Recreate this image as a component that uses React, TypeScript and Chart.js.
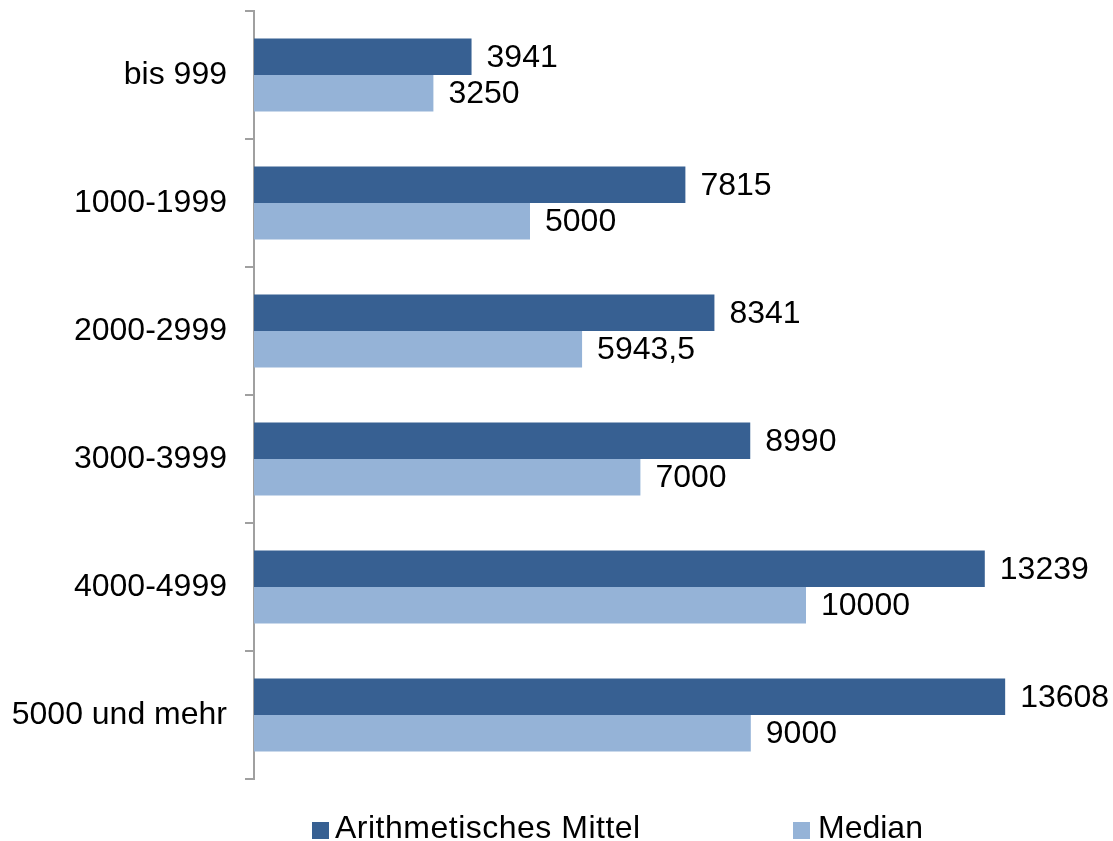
import React, { useEffect, useRef } from "react";
import { Chart, registerables } from "chart.js";

Chart.register(...registerables);

const categories = ["bis 999", "1000-1999", "2000-2999", "3000-3999", "4000-4999", "5000 und mehr"];
const meanValues = [3941, 7815, 8341, 8990, 13239, 13608];
const medianValues = [3250, 5000, 5943.5, 7000, 10000, 9000];
const seriesNames = ["Arithmetisches Mittel", "Median"];
const seriesColors = ["#376092", "#95B3D7"];

const FONT = '"Liberation Sans", Arial, sans-serif';
const FONT_SIZE = 32;
const AXIS_GRAY = "#A0A0A0";

const fmt = (v: number) => String(v).replace(".", ",");

const valueLabels = {
  id: "valueLabels",
  afterDatasetsDraw(chart: any) {
    const ctx = chart.ctx;
    ctx.save();
    ctx.font = `${FONT_SIZE}px ${FONT}`;
    ctx.fillStyle = "#000";
    ctx.textAlign = "left";
    ctx.textBaseline = "middle";
    chart.data.datasets.forEach((ds: any, i: number) => {
      const meta = chart.getDatasetMeta(i);
      meta.data.forEach((el: any, j: number) => {
        ctx.fillText(fmt(ds.data[j]), el.x + 15, el.y + 1);
      });
    });
    ctx.restore();
  },
};

export default function App() {
  const ref = useRef<HTMLCanvasElement>(null);

  useEffect(() => {
    if (!ref.current) return;
    const chart = new Chart(ref.current, {
      type: "bar",
      data: {
        labels: categories,
        datasets: [
          { label: seriesNames[0], data: meanValues, backgroundColor: seriesColors[0], borderWidth: 0 },
          { label: seriesNames[1], data: medianValues, backgroundColor: seriesColors[1], borderWidth: 0 },
        ],
      },
      options: {
        indexAxis: "y",
        animation: false,
        responsive: false,
        devicePixelRatio: 1,
        barPercentage: 1,
        categoryPercentage: 0.57,
        layout: { padding: { top: 11, bottom: 62, left: 0, right: 31 } },
        plugins: {
          legend: { display: false },
          tooltip: { enabled: false },
        },
        scales: {
          x: { type: "linear", display: false, min: 0, max: 15000 },
          y: {
            type: "category",
            grid: {
              offset: true,
              drawOnChartArea: false,
              drawTicks: true,
              tickLength: 9,
              color: AXIS_GRAY,
              lineWidth: 2,
            },
            border: { display: true, color: AXIS_GRAY, width: 2 },
            ticks: {
              padding: 18,
              color: "#000",
              autoSkip: false,
              font: { family: FONT, size: FONT_SIZE },
            },
            afterFit: (s: any) => {
              s.width = 254;
              s.paddingTop = 0;
              s.paddingBottom = 0;
            },
          },
        },
      } as any,
      plugins: [valueLabels],
    });
    return () => chart.destroy();
  }, []);

  const legendLeft = [312, 793];

  return (
    <div style={{ position: "absolute", left: 0, top: 0, width: 1113, height: 841, background: "#fff" }}>
      <canvas ref={ref} width={1113} height={841} style={{ display: "block" }} />
      {seriesNames.map((name, i) => (
        <div
          key={name}
          style={{
            position: "absolute",
            left: legendLeft[i],
            top: 811,
            display: "flex",
            alignItems: "center",
            height: 32,
            fontFamily: FONT,
            fontSize: FONT_SIZE,
            lineHeight: "32px",
            letterSpacing: i === 0 ? "0.5px" : "0px",
            color: "#000",
            whiteSpace: "nowrap",
          }}
        >
          <span
            style={{
              display: "inline-block",
              width: 17,
              height: 17,
              background: seriesColors[i],
              marginRight: i === 0 ? 6 : 8,
              marginTop: 6,
            }}
          />
          <span>{name}</span>
        </div>
      ))}
    </div>
  );
}
